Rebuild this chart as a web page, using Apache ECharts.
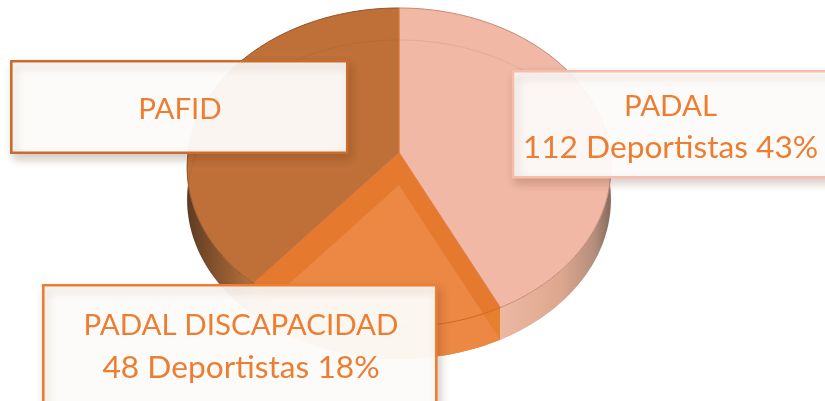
<!DOCTYPE html>
<html><head><meta charset="utf-8">
<style>html,body{margin:0;padding:0;background:#fff}#c{width:825px;height:401px}</style>
<script src="https://cdn.jsdelivr.net/npm/echarts@6/dist/echarts.min.js"></script>
</head><body><div id="c"></div>
<script>
const categories = ['PADAL', 'PADAL DISCAPACIDAD', 'PAFID'];
const values = [112, 48, 102];
const unit = 'Deportistas';
const percents = [43, 18, null];
const faceColors = ['#F0B8A5', '#E57A2E', '#BF7038'];
const rimColors = ['#C98B73', '#CC6A22', '#95582C'];

const total = values.reduce((a, b) => a + b, 0);
const starts = values.map((_, i) => values.slice(0, i).reduce((a, b) => a + b, 0) / total);
// Perspective projection of the tilted disc
const P = {cx: 399, cy: 153, a: 211, b: 158.2, k: 0.0909, depth: 32};
function proj(f, dy) {
  const t = 2 * Math.PI * f, u = Math.sin(t), v = Math.cos(t), d = 1 + P.k * v;
  return [P.cx + P.a * u / d, P.cy - P.b * v / d + (dy || 0)];
}
function arc(f0, f1, dy) {
  const n = Math.max(2, Math.ceil((f1 - f0) * 240)), out = [];
  for (let i = 0; i <= n; i++) out.push(proj(f0 + (f1 - f0) * i / n, dy));
  return out;
}
const range = i => [starts[i], starts[i] + values[i] / total];
const sideFills = [
  {type: 'linear', x: 500, y: 0, x2: 611, y2: 0, global: true, colorStops: [
    {offset: 0, color: '#EDB8A2'}, {offset: 0.55, color: '#DDA78F'}, {offset: 0.85, color: '#B48E7C'}, {offset: 1, color: '#85695C'}]},
  '#E6802F',
  {type: 'linear', x: 187, y: 0, x2: 262, y2: 0, global: true, colorStops: [
    {offset: 0, color: '#5E3B22'}, {offset: 0.45, color: '#8C5730'}, {offset: 1, color: '#C47A3C'}]}
];
function sideItem(params) {
  const i = params.dataIndex, [a, b] = range(i);
  const top = arc(a, b, 0), bot = arc(a, b, P.depth).reverse();
  return {type: 'polygon', shape: {points: top.concat(bot)}, style: {fill: sideFills[i]}};
}
function faceItem(params) {
  const i = params.dataIndex, [a, b] = range(i), rim = arc(a, b, 0);
  const kids = [{type: 'polygon', shape: {points: [[P.cx, P.cy]].concat(rim)}, style: {fill: faceColors[i]}}];
  if (i === 1) {
    kids.push({type: 'polygon', shape: {points: [[P.cx, P.cy + P.depth]].concat(arc(a, b, P.depth))}, style: {fill: '#EC8744'}});
  } else {
    kids.push({type: 'polyline', shape: {points: arc(a, b, P.depth)}, style: {fill: 'none', stroke: 'rgba(90,40,10,0.09)', lineWidth: 1}});
  }
  kids.push({type: 'polyline', shape: {points: rim}, style: {fill: 'none', stroke: rimColors[i], lineWidth: 1}});
  kids.push({type: 'polyline', shape: {points: [rim[0], [P.cx, P.cy], rim[rim.length - 1]]},
    style: {fill: 'none', stroke: 'rgba(226,120,60,0.75)', lineWidth: 1.2}});
  return {type: 'group', children: kids};
}
const labelText = i => percents[i] === null ? '{a|' + categories[i] + '}'
  : '{a|' + categories[i] + '}\n{b|' + values[i] + ' ' + unit + ' ' + percents[i] + '%}';
const FONT = 'Lato, Carlito, sans-serif';
function box(i, x, y, w, h, tx, ty, stroke, fill) {
  return [{
    type: 'rect', z: 10, shape: {x, y, width: w, height: h},
    style: {fill, stroke, lineWidth: 2.6, shadowBlur: 9, shadowOffsetX: 3, shadowOffsetY: 5, shadowColor: 'rgba(90,50,20,0.26)'}
  }, {
    type: 'text', z: 11, x: tx, y: ty,
    style: {
      text: labelText(i), align: 'center', verticalAlign: 'middle',
      rich: {
        a: {fill: '#ED7D31', fontFamily: FONT, fontSize: 29.5, lineHeight: 42, align: 'center'},
        b: {fill: '#ED7D31', fontFamily: FONT, fontSize: 31.7, lineHeight: 42, align: 'center'}
      }
    }
  }];
}
const chart = echarts.init(document.getElementById('c'), null, {renderer: 'canvas'});
chart.setOption({
  animation: false,
  backgroundColor: '#fff',
  series: [
    {type: 'custom', name: 'side', coordinateSystem: 'none', z: 1, silent: true, data: values, renderItem: sideItem},
    {type: 'custom', name: 'face', coordinateSystem: 'none', z: 2, silent: true, data: values, renderItem: faceItem}
  ],
  graphic: {elements: [].concat(
    box(2, 11.3, 61.3, 336, 91.5, 180, 109, '#C96C2C', 'rgba(255,254,253,0.94)'),
    box(0, 513, 71.3, 340, 106, 670.5, 127, '#F6BEAA', 'rgba(255,254,253,0.93)'),
    box(1, 43.3, 285.3, 393, 150, 241, 346.5, '#ED7D31', 'rgba(255,254,252,0.94)')
  )}
});
</script></body></html>
